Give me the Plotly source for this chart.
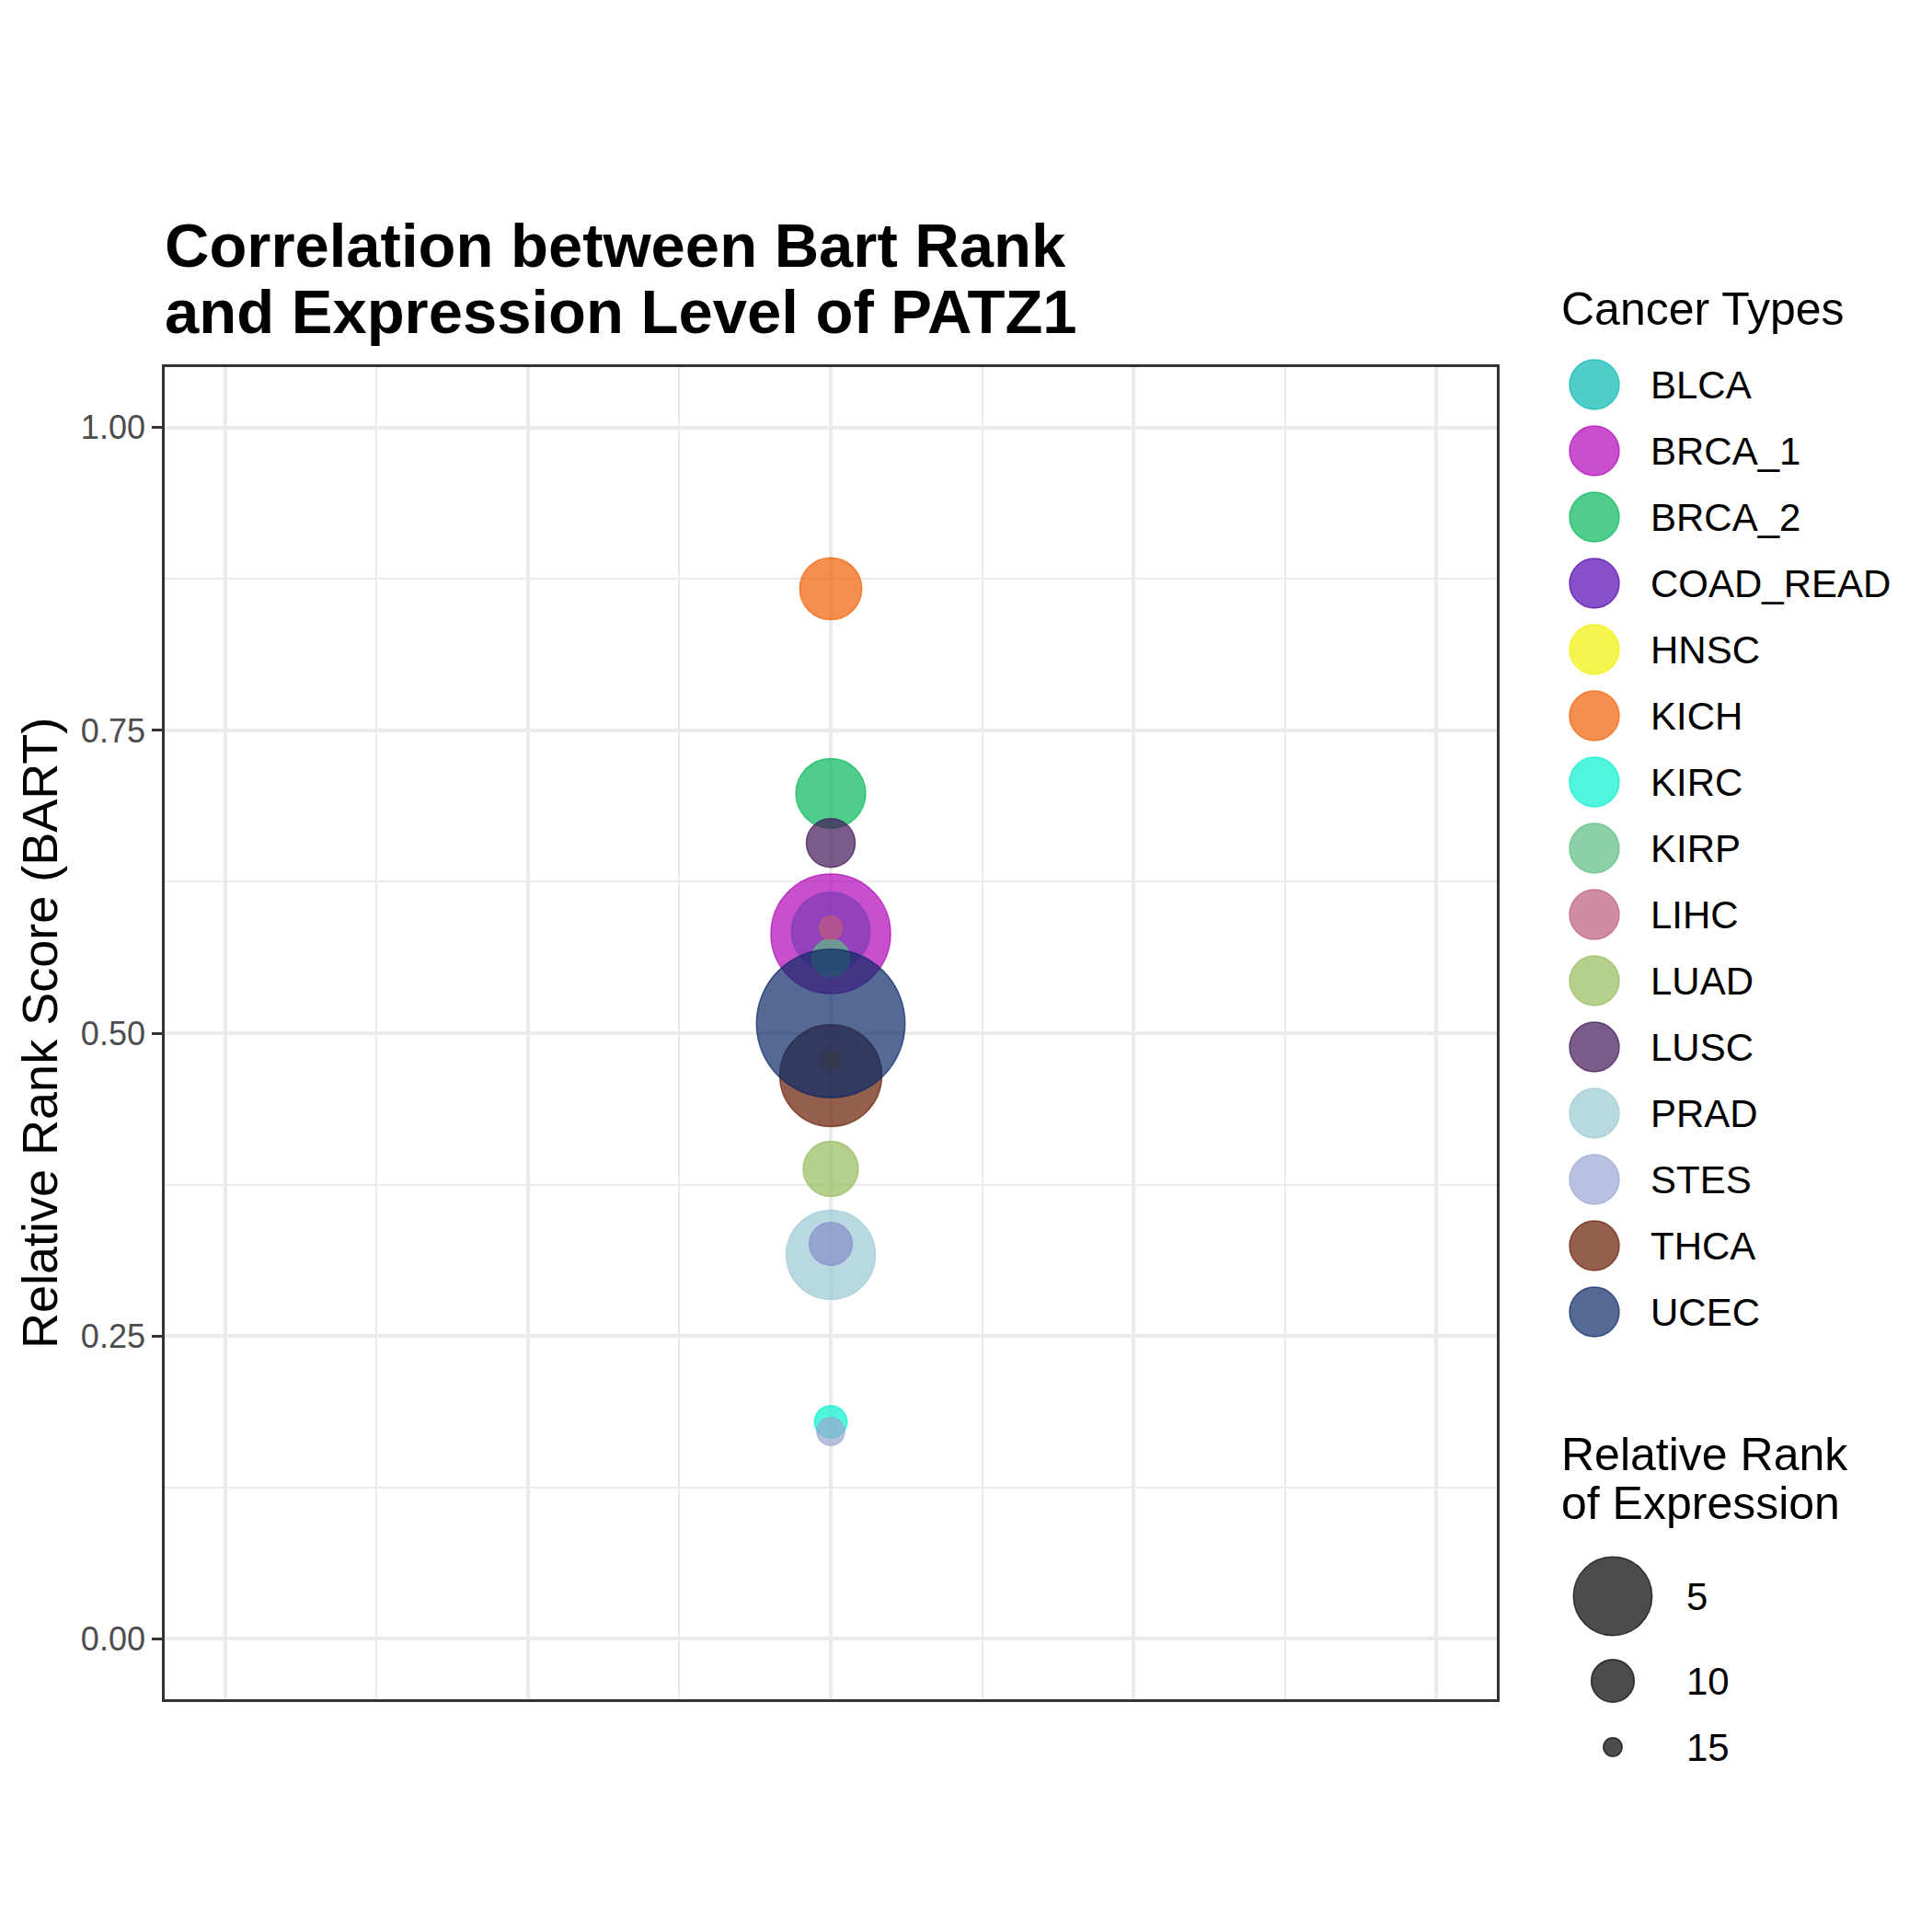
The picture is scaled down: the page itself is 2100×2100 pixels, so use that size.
import numpy as np
import plotly.graph_objects as go

# data
cancer_types = ['BLCA', 'BRCA_1', 'BRCA_2', 'COAD_READ', 'HNSC', 'KICH', 'KIRC', 'KIRP',
                'LIHC', 'LUAD', 'LUSC', 'PRAD', 'STES', 'THCA', 'UCEC']
bart_score = [0.584, 0.582, 0.698, 0.326, 0.478, 0.867, 0.179, 0.562,
              0.587, 0.388, 0.657, 0.317, 0.171, 0.465, 0.508]
expr_rank = [5, 2, 6, 10, 15, 7, 12, 11, 14, 8, 9, 4, 13, 3, 1]
x_pos = [0] * len(cancer_types)
cancer_colors = ['#05B8B2', '#B105B6', '#05B858', '#5505B0', '#F1F105', '#F16005',
                 '#05F1CD', '#5BBC80', '#BC5B7D', '#94BC5B', '#411658', '#9BC9D3',
                 '#9AA8D3', '#661C02', '#0B2A66']
size_breaks = [5, 10, 15]

ALPHA = 0.7
FONT = 'Liberation Sans, Arial, sans-serif'
W = H = 2100


def rgba(hex_col, a=ALPHA):
    h = hex_col.lstrip('#')
    r, g, b = int(h[0:2], 16), int(h[2:4], 16), int(h[4:6], 16)
    return 'rgba(%d,%d,%d,%.2f)' % (r, g, b, a)


def size_scale(rank):
    # reversed size scale: low rank -> big bubble (diameter in px)
    rank = np.asarray(rank, dtype=float)
    return 163 - 42.8 * np.log(rank) - 1.8 * (rank - 1) - 1.5


fig = go.Figure()

fill = [rgba(c) for c in cancer_colors]
fig.add_trace(go.Scatter(
    x=x_pos, y=bart_score, mode='markers',
    marker=dict(size=size_scale(expr_rank), sizemode='diameter', color=fill, opacity=1,
                line=dict(color=fill, width=1.5)),
    text=cancer_types, showlegend=False, xaxis='x', yaxis='y'
))

# colour legend, drawn on a pixel-space overlay axis
leg_y = [418 + 72 * i for i in range(len(cancer_types))]
fig.add_trace(go.Scatter(
    x=[1733] * len(cancer_types), y=leg_y, mode='markers',
    marker=dict(size=54, color=fill, opacity=1, line=dict(color=fill, width=1.5)),
    showlegend=False, hoverinfo='skip', xaxis='x2', yaxis='y2'
))

# size legend
size_y = [1735, 1827, 1899]
fig.add_trace(go.Scatter(
    x=[1753] * len(size_breaks), y=size_y, mode='markers',
    marker=dict(size=size_scale(size_breaks), color='rgba(0,0,0,0.7)', opacity=1,
                line=dict(color='rgba(0,0,0,0.7)', width=1.5)),
    showlegend=False, hoverinfo='skip', xaxis='x2', yaxis='y2'
))

annotations = []
for name, y in zip(cancer_types, leg_y):
    annotations.append(dict(x=1792, y=y, xref='x2', yref='y2', text=name, showarrow=False,
                            xanchor='left', yanchor='middle',
                            font=dict(family=FONT, size=42, color='black')))
for b, y in zip(size_breaks, size_y):
    annotations.append(dict(x=1831, y=y, xref='x2', yref='y2', text=str(b), showarrow=False,
                            xanchor='left', yanchor='middle',
                            font=dict(family=FONT, size=42, color='black')))

annotations += [
    dict(x=1695, y=336, xref='x2', yref='y2', text='Cancer Types', showarrow=False,
         xanchor='left', yanchor='middle', font=dict(family=FONT, size=50, color='black')),
    dict(x=1695, y=1581, xref='x2', yref='y2', text='Relative Rank', showarrow=False,
         xanchor='left', yanchor='middle', font=dict(family=FONT, size=50, color='black')),
    dict(x=1695, y=1634, xref='x2', yref='y2', text='of Expression', showarrow=False,
         xanchor='left', yanchor='middle', font=dict(family=FONT, size=50, color='black')),
    dict(x=177, y=266, xref='x2', yref='y2', text='<b>Correlation between Bart Rank</b>',
         showarrow=False, xanchor='left', yanchor='middle',
         font=dict(family=FONT, size=67, color='black')),
    dict(x=177, y=338, xref='x2', yref='y2', text='<b>and Expression Level of PATZ1</b>',
         showarrow=False, xanchor='left', yanchor='middle',
         font=dict(family=FONT, size=67, color='black')),
    dict(x=43, y=1123, xref='x2', yref='y2', text='Relative Rank Score (BART)',
         showarrow=False, textangle=-90, xanchor='center', yanchor='middle',
         font=dict(family=FONT, size=54, color='black')),
]

grid = '#EBEBEB'
fig.update_layout(
    width=W, height=H,
    margin=dict(l=0, r=0, t=0, b=0),
    paper_bgcolor='white', plot_bgcolor='rgba(0,0,0,0)',
    showlegend=False,
    annotations=annotations,
    xaxis=dict(domain=[179 / W, 1627 / W], range=[-0.055, 0.055], anchor='y',
               tick0=0, dtick=0.025, showticklabels=False, ticks='',
               showgrid=True, gridcolor=grid, gridwidth=3.5, zeroline=False,
               minor=dict(dtick=0.0125, tick0=0, showgrid=True, gridcolor=grid, gridwidth=1.8),
               showline=True, mirror=True, linecolor='#333333', linewidth=2.7),
    yaxis=dict(domain=[1 - 1847 / H, 1 - 399 / H], range=[-0.05, 1.05], anchor='x',
               tick0=0, dtick=0.25, tickformat='.2f',
               ticks='outside', ticklen=11, tickwidth=2.7, tickcolor='#333333',
               tickfont=dict(family=FONT, size=36, color='#4D4D4D'),
               showgrid=True, gridcolor=grid, gridwidth=3.5, zeroline=False,
               minor=dict(dtick=0.125, tick0=0, showgrid=True, gridcolor=grid, gridwidth=1.8),
               showline=True, mirror=True, linecolor='#333333', linewidth=2.7),
    xaxis2=dict(domain=[0, 1], range=[0, W], anchor='y2', visible=False, fixedrange=True),
    yaxis2=dict(domain=[0, 1], range=[H, 0], anchor='x2', visible=False, fixedrange=True),
)

fig.write_html('out.html', config={'displayModeBar': False},
               post_script="document.body.style.margin='0';")
